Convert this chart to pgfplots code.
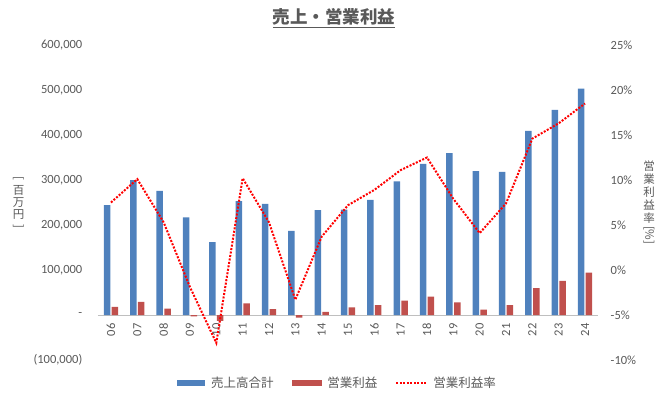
\documentclass[border=0pt]{standalone}
\usepackage{pgfplots}
\pgfplotsset{compat=1.18}
\usepackage{graphicx}
\usepackage{fontspec}
\setmainfont{Carlito}
\newfontfamily\jp{Noto Sans CJK JP}
\definecolor{sales}{HTML}{4F81BD}
\definecolor{op}{HTML}{C0504D}
\definecolor{txt}{HTML}{595959}
\pgfplotstableread{
x sales op
0 244000 18000
1 300000 29000
2 276000 14000
3 217000 -3000
4 162000 -13000
5 253000 26000
6 247000 13000
7 187000 -6000
8 233000 7000
9 234000 17000
10 256000 22000
11 297000 32000
12 336000 41000
13 360000 28000
14 320000 12000
15 318000 22000
16 409000 60000
17 456000 76000
18 503000 94000
}\bars
\pgfplotstableread{
x rate
0 7.5
1 10.1
2 5.3
3 -1.9
4 -8.1
5 10.2
6 5.3
7 -3.3
8 3.7
9 7.2
10 8.9
11 11.1
12 12.5
13 7.9
14 4.1
15 7.4
16 14.6
17 16.3
18 18.5
}\rate
\begin{document}
\begin{tikzpicture}[x=1bp,y=1bp]
\useasboundingbox (0,0) rectangle (667,397);
\begin{axis}[
  at={(97.8bp,37bp)}, anchor=south west,
  scale only axis, width=500.4bp, height=315bp,
  xmin=-0.5, xmax=18.5,
  ymin=-100000, ymax=600000,
  scaled y ticks=false,
  ytick={-100000,0,100000,200000,300000,400000,500000,600000},
  yticklabels={{(100,000)},{-\hspace{6bp}},{100,000},{200,000},{300,000},{400,000},{500,000},{600,000}},
  xtick={0,...,18},
  xticklabels={06,07,08,09,10,11,12,13,14,15,16,17,18,19,20,21,22,23,24},
  axis line style={draw=none},
  major tick length=0pt,
  tick style={draw=none},
  extra y ticks={0},
  extra y tick labels={},
  extra y tick style={grid=major, major grid style={draw=black!25, line width=0.8bp}},
  yticklabel style={font=\fontsize{12.5bp}{14bp}\selectfont, text=txt, anchor=east, xshift=-12bp},
  xticklabel style={font=\fontsize{12.5bp}{14bp}\selectfont, text=txt, rotate=90, anchor=east, xshift=40bp},
  ybar=1.3bp, bar width=6.5bp,
  legend style={at={(0.479,-0.073)}, anchor=center, draw=none, fill=none,
    legend columns=3, font=\jp\fontsize{12.5bp}{14bp}\selectfont, text=txt,
    /tikz/every odd column/.append style={column sep=4bp},
    /tikz/every even column/.append style={column sep=16bp},
    legend cell align=left},
]
\addplot[fill=sales, draw=none, legend image code/.code={\fill[sales] (0bp,-3bp) rectangle (28bp,3bp);}] table[x=x, y=sales] {\bars};
\addlegendentry{売上高合計}
\addplot[fill=op, draw=none, legend image code/.code={\fill[op] (0bp,-3bp) rectangle (30bp,3bp);}] table[x=x, y=op] {\bars};
\addlegendentry{営業利益}
\addlegendimage{red, line width=2bp, dash pattern=on 2bp off 1.5bp, legend image code/.code={\draw[red, line width=2bp, dash pattern=on 2bp off 1.5bp] (0bp,0bp) -- (30bp,0bp);}}
\addlegendentry{営業利益率}
\end{axis}
\begin{axis}[
  at={(97.8bp,37bp)}, anchor=south west,
  scale only axis, width=500.4bp, height=315bp,
  xmin=-0.5, xmax=18.5,
  ymin=-10, ymax=25,
  ytick={-10,-5,0,5,10,15,20,25},
  yticklabels={{-10\%},{-5\%},{0\%},{5\%},{10\%},{15\%},{20\%},{25\%}},
  yticklabel pos=right,
  xtick=\empty,
  axis line style={draw=none},
  major tick length=0pt,
  tick style={draw=none},
  yticklabel style={font=\fontsize{12.5bp}{14bp}\selectfont, text=txt, anchor=west, xshift=9bp},
]
\addplot[red, line width=2bp, dash pattern=on 2bp off 1.5bp] table[x=x, y=rate] {\rate};
\end{axis}
\node[text=txt, font=\jp\bfseries\fontsize{17.5bp}{19bp}\selectfont] at (334,379) {\underline{売上・営業利益}};
\node[text=txt, font=\jp\fontsize{11.5bp}{11.5bp}\selectfont, inner sep=0pt] at (18.5,193.5)
  {\begin{tabular}{@{}c@{}}\rotatebox[origin=c]{-90}{[}\\百\\万\\円\\\rotatebox[origin=c]{-90}{]}\end{tabular}};
\node[text=txt, font=\jp\fontsize{11.5bp}{11.5bp}\selectfont, inner sep=0pt] at (649,194.5)
  {\begin{tabular}{@{}c@{}}営\\業\\利\\益\\率\\\rotatebox[origin=c]{-90}{[\%]}\end{tabular}};
\end{tikzpicture}
\end{document}
